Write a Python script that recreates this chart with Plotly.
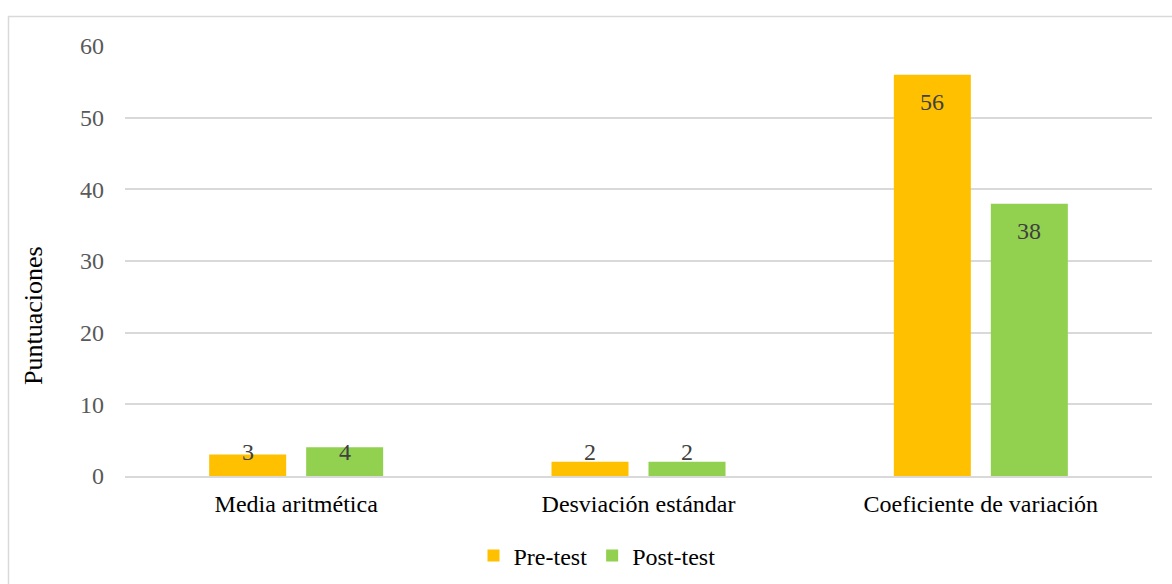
import plotly.graph_objects as go

categories = ["Media aritmética", "Desviación estándar", "Coeficiente de variación"]
pre_test = [3, 2, 56]
post_test = [4, 2, 38]
series_names = ["Pre-test", "Post-test"]
y_ticks = [0, 10, 20, 30, 40, 50, 60]
y_title = "Puntuaciones"

W, H = 1172, 584
ML, MR, MT, MB = 125, 20, 46, 108
plot_h = H - MT - MB
pw = W - ML - MR
y_max = 60
ppu = plot_h / y_max
cat_w = pw / len(categories)

FONT = "Liberation Serif"
colors = ["#FFC000", "#92D050"]

fig = go.Figure()
for name, vals, col in zip(series_names, [pre_test, post_test], colors):
    fig.add_trace(go.Bar(name=name, x=categories, y=vals, marker=dict(color=col, line=dict(width=0))))

bargap = 1 - 194 / cat_w
slot = cat_w * (1 - bargap) / 2

# data labels (inside end, clamped for short bars)
offs = [-0.5, 0.5]
for si, vals in enumerate([pre_test, post_test]):
    for ci, v in enumerate(vals):
        ylab = max(v - 27 / ppu, 24 / ppu)
        fig.add_annotation(x=ci, y=ylab, xref="x", yref="y", text=str(v), showarrow=False,
                           xshift=offs[si] * slot, yanchor="middle",
                           font=dict(family=FONT, size=24, color="#404040"))

# y axis title (placed like the original, below centre)
fig.add_annotation(x=(33 - ML) / pw, y=(H - MB - 316) / plot_h, xref="paper", yref="paper",
                   text=y_title, textangle=-90, showarrow=False, xanchor="center", yanchor="middle",
                   font=dict(family=FONT, size=26, color="#000000"))

# chart frame
fig.add_shape(type="rect", xref="paper", yref="paper",
              x0=(8.5 - ML) / pw, x1=(W + 20 - ML) / pw,
              y0=-(H + 20 - MT - plot_h) / plot_h, y1=(H - MB - 16.5) / plot_h,
              line=dict(color="#D9D9D9", width=1.5), fillcolor="rgba(0,0,0,0)", layer="below")

fig.update_layout(
    width=W, height=H,
    margin=dict(l=ML, r=MR, t=MT, b=MB, autoexpand=False),
    paper_bgcolor="white", plot_bgcolor="white",
    barmode="group", bargap=bargap, bargroupgap=20 / slot,
    font=dict(family=FONT, size=24, color="#595959"),
    showlegend=True,
    legend=dict(orientation="h", x=(597 - ML) / pw, xanchor="center",
                y=-(556 - (H - MB)) / plot_h, yanchor="middle",
                font=dict(family=FONT, size=24, color="#000000"),
                itemwidth=30, tracegroupgap=0),
)
fig.update_xaxes(showgrid=False, showline=True, linecolor="#D9D9D9", linewidth=1.5,
                 ticks="", ticklabelstandoff=5, tickfont=dict(family=FONT, size=24, color="#000000"))
fig.update_yaxes(range=[0, y_max], tickvals=y_ticks, showgrid=True, gridcolor="#D9D9D9", gridwidth=1.5,
                 zeroline=False, ticks="", ticklabelstandoff=20,
                 tickfont=dict(family=FONT, size=24, color="#595959"))

fig.write_html("out.html")
